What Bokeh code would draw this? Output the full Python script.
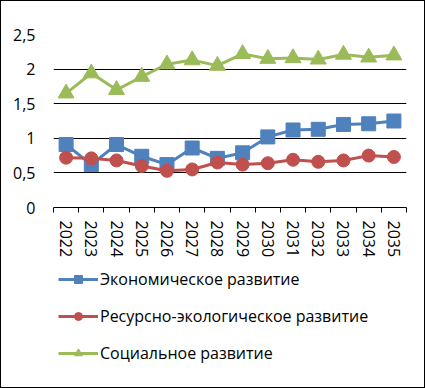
from bokeh.plotting import figure
from bokeh.layouts import column
from bokeh.models import Range1d, LinearAxis, FixedTicker, Legend, LegendItem
from bokeh.embed import file_html
from bokeh.resources import INLINE

years = ["2022", "2023", "2024", "2025", "2026", "2027", "2028",
         "2029", "2030", "2031", "2032", "2033", "2034", "2035"]
econ = [0.91, 0.62, 0.91, 0.74, 0.62, 0.86, 0.71, 0.79, 1.02, 1.12, 1.13, 1.20, 1.21, 1.25]
resource = [0.72, 0.71, 0.68, 0.60, 0.53, 0.55, 0.65, 0.62, 0.64, 0.69, 0.66, 0.68, 0.75, 0.73]
social = [1.65, 1.94, 1.70, 1.89, 2.07, 2.13, 2.05, 2.22, 2.15, 2.16, 2.14, 2.21, 2.17, 2.20]
names = ["Экономическое развитие", "Ресурсно-экологическое развитие", "Социальное развитие"]
y_ticks = [0, 0.5, 1, 1.5, 2, 2.5]
y_labels = {0: "0", 0.5: "0,5", 1: "1", 1.5: "1,5", 2: "2", 2.5: "2,5"}

FONT = "Open Sans"
n = len(years)
xs = [i + 0.5 for i in range(n)]  # category centres on a numeric band scale

p = figure(frame_width=353, frame_height=173, x_range=Range1d(0, n), y_range=Range1d(0, 2.5),
           output_backend="svg", toolbar_location=None, x_axis_location=None,
           min_border_left=52, min_border_right=18, min_border_top=33, min_border_bottom=60)
p.outline_line_color = None

# y axis
p.yaxis.ticker = FixedTicker(ticks=y_ticks)
p.yaxis.major_label_overrides = y_labels
p.yaxis.axis_line_color = None
p.yaxis.major_tick_line_color = None
p.yaxis.minor_tick_line_color = None
p.yaxis.major_label_text_font = FONT
p.yaxis.major_label_text_font_size = "16px"
p.yaxis.major_label_text_color = "black"
p.yaxis.major_label_standoff = 12
p.ygrid.ticker = FixedTicker(ticks=y_ticks[1:])
p.ygrid.grid_line_color = "black"
p.ygrid.grid_line_width = 1
p.xgrid.grid_line_color = None

# x axis: labels at category centres, small ticks at category boundaries
x_axis = LinearAxis(ticker=FixedTicker(ticks=xs, minor_ticks=list(range(n + 1))),
                    major_label_overrides={x: y for x, y in zip(xs, years)},
                    axis_line_color="black", major_tick_line_color=None,
                    minor_tick_line_color="black", minor_tick_in=0, minor_tick_out=5,
                    major_tick_in=0, major_tick_out=5,
                    major_label_orientation="vertical",
                    major_label_text_font=FONT, major_label_text_font_size="16px",
                    major_label_text_color="black", major_label_standoff=8)
p.add_layout(x_axis, "below")

series = [(econ, "#4F81BD", "square", 14), (resource, "#C0504D", "circle", 13),
          (social, "#9BBB59", "triangle", 16)]
for vals, col, mk, sz in series:
    p.line(xs, vals, line_color=col, line_width=3)
    p.scatter(xs, vals, marker=mk, size=sz, fill_color=col, line_color=col)

# legend panel: same series drawn outside its view, used only for the legend entries
lg = figure(width=423, height=120, x_range=Range1d(1000, 1001), y_range=Range1d(1000, 1001),
            output_backend="svg", toolbar_location=None,
            x_axis_location=None, y_axis_location=None,
            min_border_left=0, min_border_right=0, min_border_top=0, min_border_bottom=0)
lg.outline_line_color = None
lg.grid.visible = False
items = []
for (vals, col, mk, sz), name in zip(series, names):
    r1 = lg.line(xs, vals, line_color=col, line_width=3)
    r2 = lg.scatter(xs, vals, marker=mk, size=12, fill_color=col, line_color=col)
    items.append(LegendItem(label=name, renderers=[r1, r2]))

legend = Legend(items=items, orientation="vertical", location=(5, 23),
                glyph_width=40, glyph_height=20, label_standoff=2, spacing=15,
                label_text_font=FONT, label_text_font_size="16px", label_text_color="black",
                border_line_color=None, background_fill_alpha=0, padding=0, margin=0)
lg.add_layout(legend, "center")

layout = column(p, lg, spacing=0, styles={"border": "1px solid black"})

open("out.html", "w").write(file_html(layout, INLINE))
